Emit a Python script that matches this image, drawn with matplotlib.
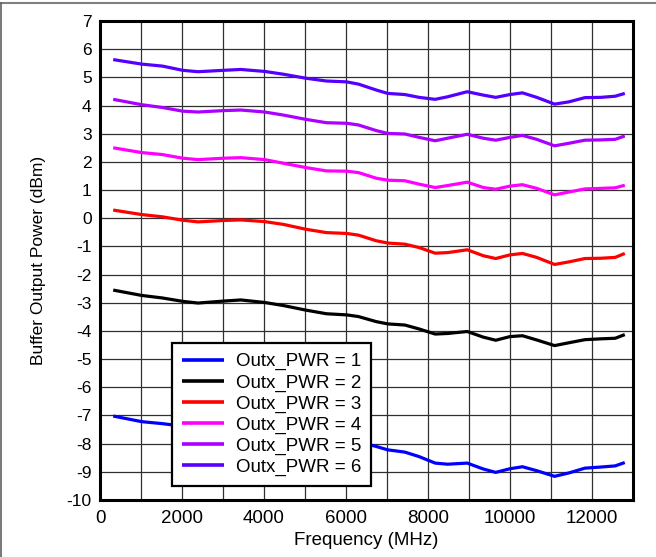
import matplotlib
matplotlib.use("Agg")
import matplotlib.pyplot as plt
from matplotlib.lines import Line2D
from matplotlib.ticker import MultipleLocator
import numpy as np

plt.rcParams['font.family'] = ['Liberation Sans', 'DejaVu Sans']

freq = [322, 1017, 1522, 2017, 2391, 3017, 3435, 4017, 4478, 5017, 5522, 6017,
        6304, 6739, 7017, 7435, 7783, 8174, 8478, 8957, 9348, 9652, 10000, 10304,
        10652, 11087, 11435, 11826, 12217, 12565, 12800]

pwr1 = [-7.02, -7.22, -7.29, -7.38, -7.45, -7.40, -7.36, -7.44, -7.55, -7.71, -7.84, -7.88,
        -7.94, -8.10, -8.22, -8.30, -8.46, -8.69, -8.73, -8.69, -8.90, -9.02, -8.89, -8.82,
        -8.96, -9.16, -9.04, -8.87, -8.83, -8.79, -8.67]
pwr2 = [-2.55, -2.74, -2.83, -2.95, -3.01, -2.94, -2.90, -2.99, -3.10, -3.26, -3.39, -3.43,
        -3.49, -3.67, -3.75, -3.79, -3.93, -4.11, -4.09, -4.02, -4.22, -4.33, -4.20, -4.17,
        -4.32, -4.52, -4.42, -4.31, -4.28, -4.26, -4.13]
pwr3 = [0.29, 0.13, 0.05, -0.07, -0.13, -0.08, -0.06, -0.12, -0.22, -0.39, -0.51, -0.54,
        -0.60, -0.80, -0.88, -0.92, -1.04, -1.24, -1.22, -1.12, -1.33, -1.43, -1.30, -1.25,
        -1.39, -1.64, -1.55, -1.43, -1.42, -1.39, -1.25]
pwr4 = [2.50, 2.33, 2.26, 2.13, 2.08, 2.13, 2.15, 2.08, 1.95, 1.80, 1.68, 1.67,
        1.62, 1.42, 1.35, 1.33, 1.21, 1.09, 1.16, 1.28, 1.09, 1.03, 1.14, 1.19,
        1.06, 0.83, 0.93, 1.04, 1.06, 1.08, 1.17]
pwr5 = [4.22, 4.03, 3.93, 3.80, 3.77, 3.82, 3.84, 3.77, 3.66, 3.51, 3.39, 3.37,
        3.31, 3.11, 3.01, 2.99, 2.87, 2.75, 2.84, 2.98, 2.84, 2.77, 2.87, 2.94,
        2.80, 2.57, 2.66, 2.77, 2.78, 2.80, 2.92]
pwr6 = [5.63, 5.47, 5.40, 5.25, 5.20, 5.25, 5.28, 5.21, 5.11, 4.97, 4.87, 4.84,
        4.76, 4.55, 4.43, 4.39, 4.29, 4.22, 4.31, 4.49, 4.37, 4.29, 4.39, 4.45,
        4.29, 4.05, 4.13, 4.28, 4.29, 4.33, 4.43]

labels = ['Outx_PWR = 1', 'Outx_PWR = 2', 'Outx_PWR = 3',
          'Outx_PWR = 4', 'Outx_PWR = 5', 'Outx_PWR = 6']
colors = ['#0000FF', '#000000', '#FF0000', '#FF00FF', '#AA00FF', '#5500FF']
series = [pwr1, pwr2, pwr3, pwr4, pwr5, pwr6]

xticks = [0, 2000, 4000, 6000, 8000, 10000, 12000]
yticks = list(range(-10, 8))

fig = plt.figure(figsize=(6.56, 5.57), dpi=100)
ax = fig.add_axes([100/656, 1-500/557, 533/656, 479/557])

ax.set_xlim(0, 13000)
ax.set_ylim(-10, 7)
ax.set_xticks(xticks)
ax.set_xticklabels([str(t) for t in xticks])
ax.xaxis.set_minor_locator(MultipleLocator(1000))
ax.set_yticks(yticks)
ax.set_yticklabels([str(t) for t in yticks])
ax.tick_params(which='both', length=0)
ax.tick_params(axis='x', labelsize=13.5, pad=7)
ax.tick_params(axis='y', labelsize=12.5, pad=6)
ax.grid(which='both', color='#303030', linewidth=0.9)
ax.set_axisbelow(True)
for sp in ax.spines.values():
    sp.set_linewidth(2.2)
    sp.set_color('black')

for y, c, lab in zip(series, colors, labels):
    ax.plot(freq, y, color=c, lw=2.3, label=lab, solid_joinstyle='round',
            solid_capstyle='butt')

ax.set_xlabel('Frequency (MHz)', fontsize=13.5)
ax.set_ylabel('Buffer Output Power (dBm)', fontsize=12.5)
ax.xaxis.set_label_coords(0.5, -0.066)
ax.yaxis.set_label_coords(-0.102, 0.5)

leg = ax.legend(loc='lower left', bbox_to_anchor=(0.135, 0.029), fontsize=13.5,
                frameon=True, fancybox=False, framealpha=1, edgecolor='black',
                borderpad=0.55, labelspacing=0.2, handlelength=2.2,
                handletextpad=0.65, borderaxespad=0)
leg.get_frame().set_linewidth(1.6)
for h in leg.get_lines():
    h.set_linewidth(2.6)

fig.add_artist(Line2D([0, 1], [1-2.5/557, 1-2.5/557], transform=fig.transFigure,
                      color='#808080', lw=1.5))
fig.add_artist(Line2D([0.8/656, 0.8/656], [0, 1-2.5/557], transform=fig.transFigure,
                      color='#606060', lw=1.2))

fig.savefig('out.png', dpi=100)
